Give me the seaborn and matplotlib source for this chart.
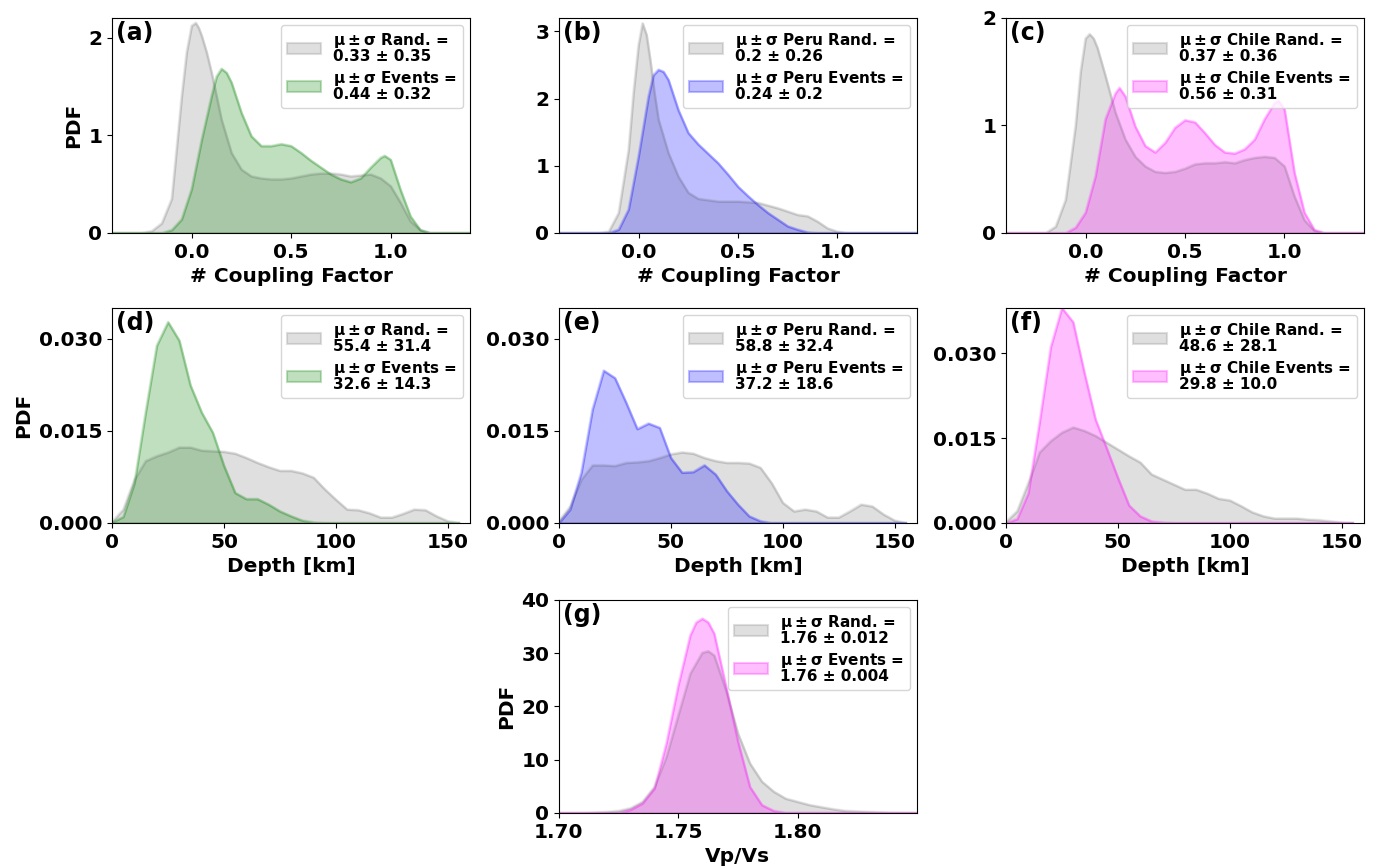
import matplotlib
matplotlib.use("Agg")
import matplotlib.pyplot as plt
import seaborn as sns
import pandas as pd

# ---- coupling factor, all events (a)
cf_x_rand_a = [-0.4, -0.25, -0.2, -0.15, -0.1, -0.05, -0.025, 0.0, 0.02, 0.035, 0.05, 0.075, 0.1, 0.15, 0.2,
               0.25, 0.3, 0.35, 0.4, 0.45, 0.5, 0.55, 0.6, 0.65, 0.7, 0.75, 0.8, 0.85, 0.9, 0.95, 1.0,
               1.05, 1.1, 1.15, 1.2, 1.4]
cf_y_rand_a = [0, 0, 0.02, 0.1, 0.35, 1.4, 1.85, 2.12, 2.15, 2.1, 2.02, 1.85, 1.64, 1.16, 0.82,
               0.65, 0.58, 0.56, 0.55, 0.55, 0.56, 0.58, 0.6, 0.61, 0.61, 0.6, 0.58, 0.59, 0.6, 0.56, 0.48,
               0.31, 0.12, 0.03, 0, 0]
cf_x_ev_a = [-0.4, -0.15, -0.1, -0.05, 0.0, 0.05, 0.1, 0.125, 0.15, 0.175, 0.2, 0.25, 0.3, 0.35, 0.4, 0.45,
             0.5, 0.55, 0.6, 0.65, 0.7, 0.75, 0.8, 0.85, 0.9, 0.95, 0.97, 1.0, 1.05, 1.1, 1.15, 1.2, 1.4]
cf_y_ev_a = [0, 0, 0.03, 0.14, 0.45, 0.95, 1.4, 1.6, 1.68, 1.64, 1.54, 1.23, 0.99, 0.89, 0.89, 0.91,
             0.89, 0.82, 0.74, 0.67, 0.6, 0.55, 0.52, 0.56, 0.67, 0.77, 0.79, 0.75, 0.44, 0.17, 0.03, 0, 0]

# ---- coupling factor, Peru (b)
cf_x_rand_b = [-0.4, -0.2, -0.15, -0.1, -0.05, -0.025, 0.0, 0.02, 0.04, 0.06, 0.08, 0.1, 0.15, 0.2, 0.25,
               0.3, 0.4, 0.5, 0.6, 0.7, 0.8, 0.85, 0.9, 0.95, 1.0, 1.05, 1.4]
cf_y_rand_b = [0, 0, 0.02, 0.3, 1.24, 2.1, 2.8, 3.12, 2.95, 2.55, 2.08, 1.69, 1.19, 0.84, 0.6,
               0.51, 0.47, 0.47, 0.45, 0.37, 0.27, 0.25, 0.17, 0.07, 0.02, 0, 0]
cf_x_ev_b = [-0.4, -0.15, -0.1, -0.05, 0.0, 0.05, 0.075, 0.1, 0.125, 0.15, 0.2, 0.25, 0.3, 0.35, 0.4,
             0.45, 0.5, 0.55, 0.6, 0.65, 0.7, 0.75, 0.8, 0.85, 0.9, 1.4]
cf_y_ev_b = [0, 0, 0.05, 0.35, 1.14, 2.03, 2.35, 2.43, 2.4, 2.28, 1.83, 1.49, 1.32, 1.18, 1.04,
             0.87, 0.69, 0.55, 0.42, 0.3, 0.2, 0.1, 0.05, 0.01, 0, 0]

# ---- coupling factor, Chile (c)
cf_x_rand_c = [-0.4, -0.2, -0.15, -0.1, -0.05, -0.025, 0.0, 0.02, 0.04, 0.06, 0.1, 0.15, 0.2, 0.25, 0.3,
               0.35, 0.4, 0.45, 0.5, 0.55, 0.6, 0.65, 0.7, 0.75, 0.8, 0.85, 0.9, 0.95, 1.0, 1.05, 1.1,
               1.15, 1.2, 1.4]
cf_y_rand_c = [0, 0, 0.06, 0.31, 1.0, 1.5, 1.81, 1.85, 1.81, 1.72, 1.46, 1.12, 0.87, 0.71, 0.62,
               0.57, 0.56, 0.57, 0.6, 0.64, 0.65, 0.65, 0.66, 0.65, 0.68, 0.7, 0.71, 0.7, 0.62, 0.34, 0.12,
               0.02, 0, 0]
cf_x_ev_c = [-0.4, -0.1, -0.05, 0.0, 0.05, 0.1, 0.15, 0.17, 0.2, 0.25, 0.3, 0.35, 0.4, 0.45, 0.5, 0.55,
             0.6, 0.65, 0.7, 0.75, 0.8, 0.85, 0.9, 0.95, 0.97, 1.0, 1.05, 1.1, 1.15, 1.2, 1.4]
cf_y_ev_c = [0, 0, 0.05, 0.19, 0.53, 1.06, 1.3, 1.35, 1.27, 0.99, 0.81, 0.75, 0.84, 0.98, 1.05, 1.03,
             0.93, 0.82, 0.75, 0.74, 0.78, 0.87, 1.06, 1.21, 1.23, 1.15, 0.56, 0.19, 0.03, 0, 0]

# ---- depth (d, e, f), 5 km bins
depth_km = [0, 5, 10, 15, 20, 25, 30, 35, 40, 45, 50, 55, 60, 65, 70, 75, 80, 85, 90, 95,
            100, 105, 110, 115, 120, 125, 130, 135, 140, 145, 150, 155]
dep_rand_d = [0.0002, 0.0022, 0.0071, 0.0101, 0.0109, 0.0115, 0.0123, 0.0123, 0.0118, 0.0117, 0.0116,
              0.0113, 0.0106, 0.0098, 0.0091, 0.0085, 0.0085, 0.0081, 0.0074, 0.0055, 0.0038, 0.0022,
              0.0021, 0.0016, 0.0009, 0.0009, 0.0015, 0.0022, 0.0021, 0.0011, 0.0003, 0.0]
dep_ev_d = [0.0001, 0.001, 0.0065, 0.018, 0.0289, 0.0327, 0.0297, 0.0224, 0.018, 0.0147, 0.0093,
            0.0049, 0.0039, 0.0039, 0.003, 0.0019, 0.0011, 0.0004, 0.0001, 0, 0, 0, 0, 0, 0, 0, 0,
            0, 0, 0, 0, 0]
dep_rand_e = [0.0003, 0.0027, 0.0071, 0.0094, 0.0094, 0.0093, 0.0098, 0.0099, 0.0101, 0.0106, 0.0112,
              0.0115, 0.0113, 0.0106, 0.0101, 0.0098, 0.0098, 0.0097, 0.009, 0.0065, 0.0033, 0.0019,
              0.0022, 0.0019, 0.0009, 0.0009, 0.0019, 0.003, 0.0027, 0.0014, 0.0004, 0.0]
dep_ev_e = [0.0, 0.0022, 0.0082, 0.0185, 0.0248, 0.0236, 0.0196, 0.0153, 0.0162, 0.0155, 0.0106,
            0.0082, 0.0083, 0.0094, 0.0079, 0.0052, 0.003, 0.0011, 0.0003, 0, 0, 0, 0, 0, 0, 0, 0,
            0, 0, 0, 0, 0]
dep_rand_f = [0.0002, 0.0021, 0.0071, 0.0125, 0.0145, 0.016, 0.0169, 0.0163, 0.0154, 0.0142, 0.013,
              0.0118, 0.0107, 0.0086, 0.0077, 0.0068, 0.0059, 0.0059, 0.0052, 0.0043, 0.004, 0.003,
              0.0019, 0.0012, 0.0008, 0.0008, 0.0008, 0.0006, 0.0005, 0.0003, 0.0001, 0.0]
dep_ev_f = [0.0, 0.0007, 0.0053, 0.0178, 0.0311, 0.038, 0.0355, 0.0266, 0.0183, 0.0132, 0.008,
            0.0031, 0.0012, 0.0003, 0.0001, 0, 0, 0, 0, 0, 0, 0, 0, 0, 0, 0, 0, 0, 0, 0, 0, 0]

# ---- Vp/Vs (g)
vpvs_x_rand = [1.70, 1.71, 1.72, 1.725, 1.73, 1.735, 1.74, 1.745, 1.75, 1.755, 1.76, 1.7625, 1.765,
               1.77, 1.775, 1.78, 1.785, 1.79, 1.795, 1.80, 1.805, 1.81, 1.815, 1.82, 1.83, 1.84, 1.85]
vpvs_y_rand = [0, 0.02, 0.2, 0.4, 0.9, 2.1, 4.9, 10.6, 18.4, 26.2, 30.1, 30.4, 29.6,
               23.0, 14.9, 9.3, 5.9, 4.0, 2.7, 2.1, 1.5, 1.1, 0.7, 0.4, 0.2, 0.05, 0]
vpvs_x_ev = [1.70, 1.725, 1.73, 1.735, 1.74, 1.745, 1.75, 1.755, 1.7575, 1.76, 1.7625, 1.765, 1.77,
             1.775, 1.78, 1.785, 1.79, 1.795, 1.85]
vpvs_y_ev = [0, 0, 0.6, 1.8, 4.6, 13.1, 24.0, 33.4, 35.8, 36.5, 35.8, 33.7, 23.7,
             13.4, 4.9, 1.5, 0.4, 0.05, 0]

rand_labels = ["Rand.", "Peru Rand.", "Chile Rand."]
ev_labels = ["Events", "Peru Events", "Chile Events"]
cf_stats_rand = ["0.33 ± 0.35", "0.2 ± 0.26", "0.37 ± 0.36"]
cf_stats_ev = ["0.44 ± 0.32", "0.24 ± 0.2", "0.56 ± 0.31"]
dep_stats_rand = ["55.4 ± 31.4", "58.8 ± 32.4", "48.6 ± 28.1"]
dep_stats_ev = ["32.6 ± 14.3", "37.2 ± 18.6", "29.8 ± 10.0"]
vpvs_stats = ["1.76 ± 0.012", "1.76 ± 0.004"]
ev_colors = ["green", "blue", "magenta"]

plt.rcParams["font.weight"] = "bold"
plt.rcParams["axes.labelweight"] = "bold"
plt.rcParams["xtick.labelsize"] = 14.5
plt.rcParams["ytick.labelsize"] = 14.5
plt.rcParams["axes.labelsize"] = 14.5

MU = r"$\mathbf{\mu \pm \sigma}$"


def draw(ax, x, y, color, label):
    df = pd.DataFrame({"x": x, "y": y})
    sns.lineplot(data=df, x="x", y="y", ax=ax, color=color, alpha=0.15, linewidth=2)
    return ax.fill_between(df["x"], df["y"], facecolor=color, alpha=0.25,
                           edgecolor=color, linewidth=1.5, label=label)


def panel(ax, tag, curves, xlim, ylim, xticks, yticks, xlabel, ylabel=None):
    handles = []
    for x, y, color, label in curves:
        handles.append(draw(ax, x, y, color, label))
    ax.set_xlim(xlim)
    ax.set_ylim(ylim)
    ax.set_xticks(xticks)
    ax.set_yticks(yticks)
    ax.set_xlabel(xlabel)
    ax.set_ylabel(ylabel if ylabel else "")
    ax.text(0.012, 0.985, tag, transform=ax.transAxes, fontsize=17,
            fontweight="bold", va="top", ha="left")
    leg = ax.legend(handles=handles, loc="upper right", fontsize=11, handlelength=2.2,
                    labelspacing=0.3, borderaxespad=0.45, handletextpad=0.8)
    for t in leg.get_texts():
        t.set_linespacing(0.95)


fig = plt.figure(figsize=(13.75, 8.68), dpi=100)
lefts = [0.0815, 0.4065, 0.7316]
w, h = 0.2604, 0.2477

cf_sets = [(cf_x_rand_a, cf_y_rand_a, cf_x_ev_a, cf_y_ev_a),
           (cf_x_rand_b, cf_y_rand_b, cf_x_ev_b, cf_y_ev_b),
           (cf_x_rand_c, cf_y_rand_c, cf_x_ev_c, cf_y_ev_c)]
cf_ylims = [(0, 2.2), (0, 3.2), (0, 2.0)]
cf_yticks = [[0, 1, 2], [0, 1, 2, 3], [0, 1, 2]]
dep_sets = [(dep_rand_d, dep_ev_d), (dep_rand_e, dep_ev_e), (dep_rand_f, dep_ev_f)]
dep_ylims = [(0, 0.035), (0, 0.035), (0, 0.038)]

for i in range(3):
    ax = fig.add_axes([lefts[i], 0.7316, w, h])
    xr, yr, xe, ye = cf_sets[i]
    panel(ax, "(" + "abc"[i] + ")",
          [(xr, yr, "grey", MU + " " + rand_labels[i] + " =\n" + cf_stats_rand[i]),
           (xe, ye, ev_colors[i], MU + " " + ev_labels[i] + " =\n" + cf_stats_ev[i])],
          (-0.4, 1.4), cf_ylims[i], [0.0, 0.5, 1.0], cf_yticks[i],
          "# Coupling Factor", "PDF" if i == 0 else None)
    ax.set_xticklabels(["0.0", "0.5", "1.0"])

for i in range(3):
    ax = fig.add_axes([lefts[i], 0.3975, w, h])
    yr, ye = dep_sets[i]
    panel(ax, "(" + "def"[i] + ")",
          [(depth_km, yr, "grey", MU + " " + rand_labels[i] + " =\n" + dep_stats_rand[i]),
           (depth_km, ye, ev_colors[i], MU + " " + ev_labels[i] + " =\n" + dep_stats_ev[i])],
          (0, 160), dep_ylims[i], [0, 50, 100, 150], [0, 0.015, 0.030],
          "Depth [km]", "PDF" if i == 0 else None)
    ax.set_yticklabels(["0.000", "0.015", "0.030"])

ax = fig.add_axes([lefts[1], 0.0634, w, 0.2454])
panel(ax, "(g)",
      [(vpvs_x_rand, vpvs_y_rand, "grey", MU + " Rand. =\n" + vpvs_stats[0]),
       (vpvs_x_ev, vpvs_y_ev, "magenta", MU + " Events =\n" + vpvs_stats[1])],
      (1.70, 1.85), (0, 40), [1.70, 1.75, 1.80], [0, 10, 20, 30, 40], "Vp/Vs", "PDF")
ax.set_xticklabels(["1.70", "1.75", "1.80"])

fig.savefig("out.png", dpi=100)
